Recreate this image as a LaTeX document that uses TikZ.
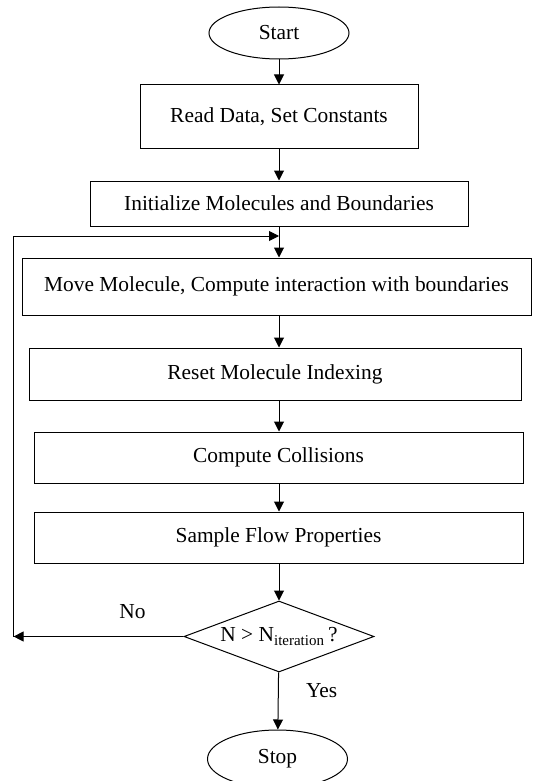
\documentclass[tikz,border=0pt]{standalone}
\usepackage{fontspec}
\setmainfont{Liberation Serif}
\usetikzlibrary{shapes,arrows.meta,positioning}

\begin{document}
\begin{tikzpicture}[x=1pt,y=-1pt,% List of styles applied to all, to override specify on a case-by-case
      every node/.style={
        align=center,     % use this so that the "\\" for line break works
        font=\fontsize{21.4}{25}\selectfont,
        line width=1pt
      },
      every edge/.style={draw,line width=1pt},
      >={Triangle[length=10pt,width=10pt]}
    ]
    \useasboundingbox (0,0) rectangle (533,781);
    \node[ellipse,draw=black,minimum width=140pt,minimum height=52pt](T1) at (279,33) {Start};
    \node[rectangle,draw=black,minimum width=278pt,minimum height=63pt](R1)[below=25pt of T1]{Read Data, Set Constants};
    \node[rectangle,draw=black,minimum width=378pt,minimum height=45pt](R2)[below=32pt of R1]{Initialize Molecules and Boundaries};
    \node[rectangle,draw=black,minimum width=509pt,minimum height=57pt](R3)[below=31pt of R2,xshift=-2.5pt]{Move Molecule, Compute interaction with boundaries};
    \node[rectangle,draw=black,minimum width=492pt,minimum height=52pt](R4)[below=32pt of R3,xshift=-1.5pt]{Reset Molecule Indexing};
    \node[rectangle,draw=black,minimum width=489pt,minimum height=51pt](R5)[below=31pt of R4,xshift=3.5pt]{Compute Collisions};
    \node[rectangle,draw=black,minimum width=489pt,minimum height=51pt](R6)[below=28pt of R5]{Sample Flow Properties};
    \node[diamond,draw=black,aspect=2.68,inner sep=0pt,minimum width=190pt,minimum height=71pt](D1)[below=37pt of R6,xshift=0.5pt]{N > N\textsubscript{iteration}\,?};
    \node[ellipse,draw=black,minimum width=140pt,minimum height=58pt](T2)[below=57pt of D1,xshift=-1.5pt]{Stop};
    % loop back corners
    \coordinate (C1) at (D1.west -| 13.6,0);
    \coordinate (C2) at (279,236);
    \path[->]
    (T1)edge [] node [] {} (T1 |- R1.north)
    (R1)edge [] node [] {} (T1 |- R2.north)
    (T1 |- R2.south)edge [-] node [] {} (C2)
    (C2)edge [] node [] {} (C2 |- R3.north)
    (R3.south -| C2)edge [] node [] {} (C2 |- R4.north)
    (R4.south -| C2)edge [] node [] {} (C2 |- R5.north)
    (R5.south -| C2)edge [] node [] {} (C2 |- R6.north)
    (R6.south -| C2)edge [] node [] {} (D1)
    (D1)edge [] node [pos=0.3,above=14pt] {No} (C1)
    (D1)edge [] node [pos=0.32,right=24pt] {Yes} (T2)
    ;
    \draw[->,line width=1pt] (C1) |- (C2);
  \end{tikzpicture}
\end{document}
